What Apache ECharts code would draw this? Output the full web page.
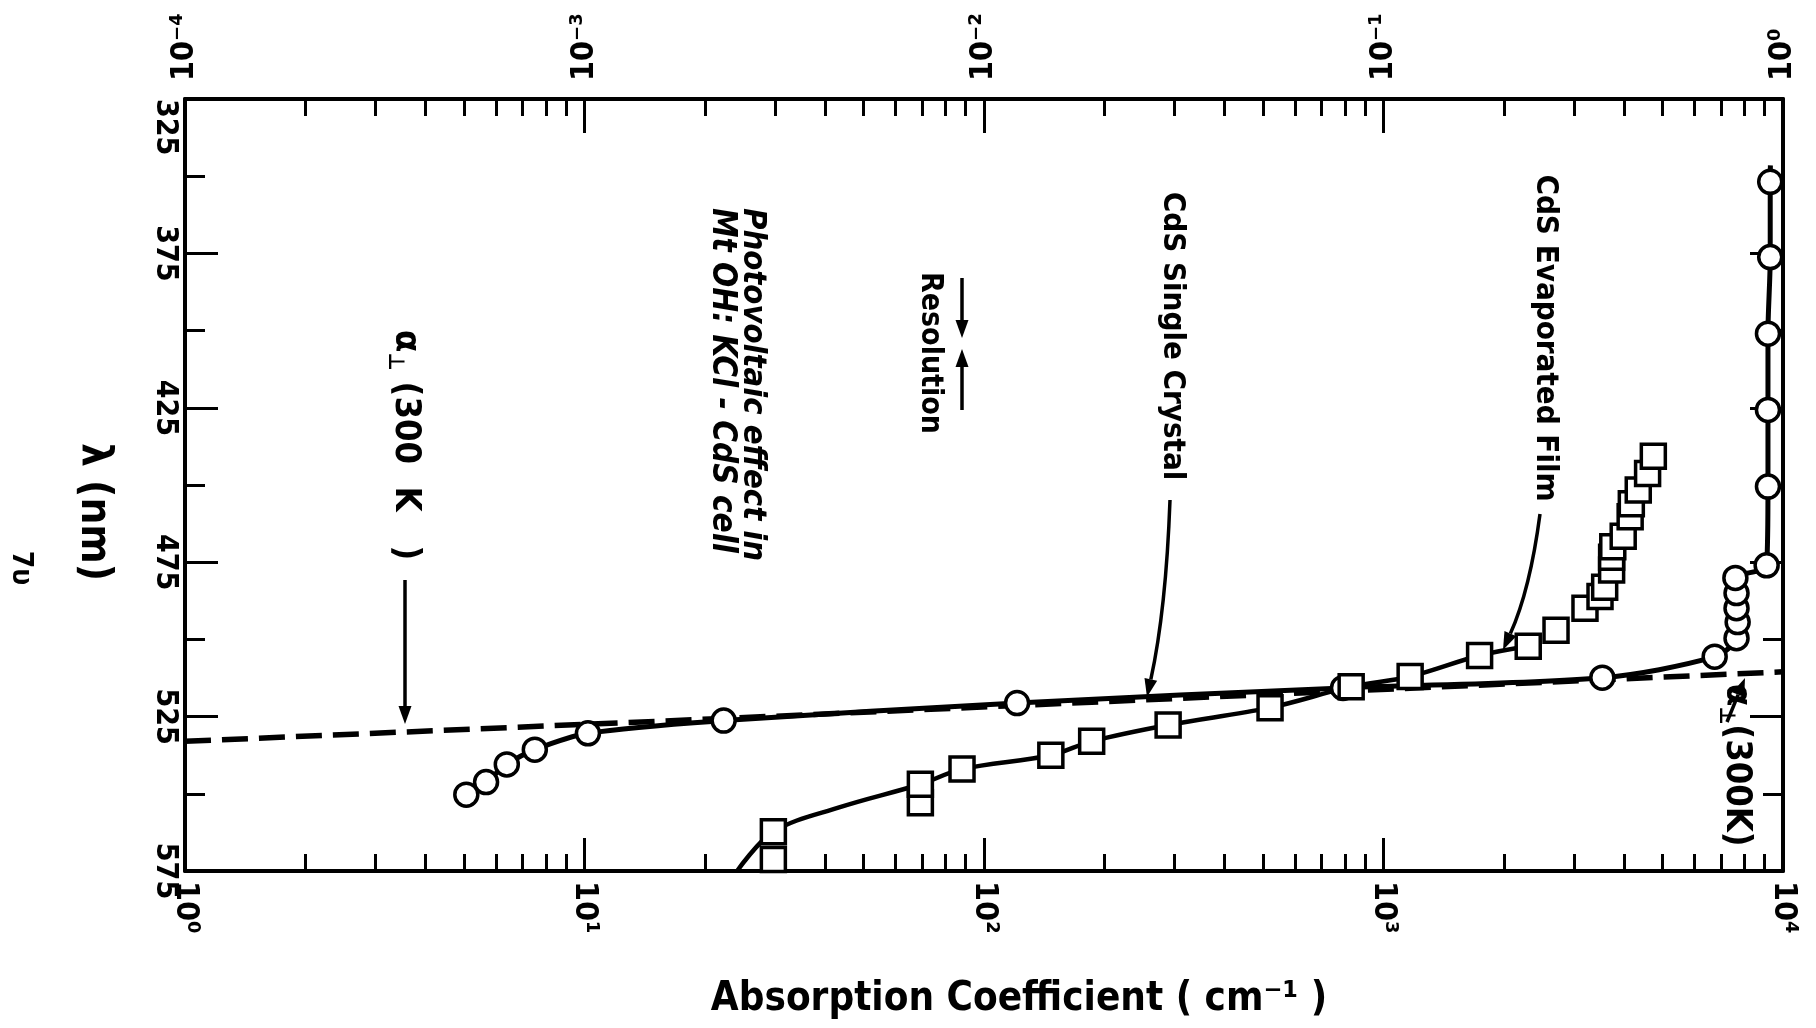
<!DOCTYPE html>
<html>
<head>
<meta charset="utf-8">
<script src="https://cdn.jsdelivr.net/npm/echarts@6/dist/echarts.min.js"></script>
<style>
  html, body { margin: 0; padding: 0; background: #fff; }
  #main { width: 1816px; height: 1028px; }
</style>
</head>
<body>
<div id="main"></div>
<script>
const FONT = "'Liberation Sans Narrow','DejaVu Sans Condensed','Liberation Sans',sans-serif";

// axis ticks / labels
const alphaMajor = [1, 10, 100, 1000, 10000];
const alphaLabels = ['10⁰', '10¹', '10²', '10³', '10⁴'];
const topMajor = [1e-4, 1e-3, 1e-2, 1e-1, 1];
const topLabels = ['10⁻⁴', '10⁻³', '10⁻²', '10⁻¹', '10⁰'];
const lambdaMajor = [325, 375, 425, 475, 525, 575];
const lambdaMinor = [350, 400, 450, 500, 550];

// CdS single crystal (circles): absorption coefficient (cm-1), wavelength (nm)
const crystalAlpha = [5.06, 5.67, 6.39, 7.51, 10.2, 22.3, 121, 792, 3530, 6745, 7650, 7700, 7650, 7650, 7600, 9100, 9170, 9170, 9170, 9290, 9290];
const crystalLambda = [550.3, 546.2, 540.5, 535.7, 530.4, 526.3, 520.6, 515.7, 512.4, 505.6, 499.6, 494.4, 489.9, 485.0, 480.1, 476.0, 450.5, 425.7, 401.0, 376.2, 351.8];
// where the crystal curve ends above the last circle
const crystalEndAlpha = [9300];
const crystalEndLambda = [346.5];

// CdS evaporated film (squares)
const filmAlpha = [29.7, 29.7, 69.3, 69.3, 88.1, 147, 186, 289, 520, 830, 1166, 1740, 2303, 2703, 3194, 3483, 3578, 3724, 3724, 3749, 3981, 4144, 4172, 4342, 4582, 4736];
const filmLambda = [571.3, 562.3, 552.9, 546.9, 542.0, 537.5, 533.0, 527.7, 522.1, 515.3, 512.0, 505.2, 502.2, 497.0, 489.9, 486.1, 483.1, 477.5, 473.4, 470.0, 466.6, 460.3, 456.1, 451.6, 446.3, 440.7];
// drawn film curve
const filmCurveAlpha = [24.1, 29.7, 43.4, 69.3, 88.1, 147, 186, 289, 520, 830, 1166, 1740, 2303];
const filmCurveLambda = [575.0, 562.3, 554.4, 546.9, 542.0, 537.5, 533.0, 527.7, 522.1, 515.3, 512.0, 505.2, 502.2];

// alpha_perp (300 K) dashed line
const perpAlpha = [1, 22.3, 10000];
const perpLambda = [533.0, 525.6, 510.5];

const zip = (a, b) => a.map((v, i) => [v, b[i]]);

const decadeMinors = (majors) => {
  const out = [];
  for (let i = 0; i < majors.length - 1; i++) {
    for (let k = 2; k <= 9; k++) out.push(majors[i] * k);
  }
  return out;
};

const labelStyle = { color: '#000', fontFamily: FONT, fontWeight: 'bold', fontSize: 32 };

function xAxisDef(position, min, max, ticks, len, labels, margin) {
  return {
    type: 'log', logBase: 10, position, min, max, gridIndex: 0,
    axisLine: { show: !!labels, onZero: false, lineStyle: { color: '#000', width: 4 } },
    axisTick: { show: true, inside: true, length: len, customValues: ticks, lineStyle: { color: '#000', width: 3 } },
    axisLabel: labels ? Object.assign({
      show: true, customValues: ticks, rotate: -90, margin,
      formatter: v => labels[Math.round(Math.log10(v) - Math.log10(min))]
    }, labelStyle) : { show: false },
    splitLine: { show: false }
  };
}

function yAxisDef(position, ticks, len, withLabels, showLine) {
  return {
    type: 'value', position, min: 325, max: 575, inverse: true, gridIndex: 0,
    axisLine: { show: showLine, onZero: false, lineStyle: { color: '#000', width: 4 } },
    axisTick: { show: true, inside: true, length: len, customValues: ticks, lineStyle: { color: '#000', width: 3 } },
    axisLabel: withLabels ? Object.assign({
      show: true, customValues: ticks, rotate: -90, margin: 5,
      alignMinLabel: 'left'
    }, labelStyle, { fontSize: 30 }) : { show: false },
    splitLine: { show: false }
  };
}

function vtext(text, x, y, size, extra) {
  return {
    type: 'text', x, y, rotation: -Math.PI / 2, z: 50,
    style: Object.assign({
      text, x: 0, y: 0, fill: '#000',
      fontFamily: FONT, fontWeight: 'bold', fontSize: size,
      align: 'left', verticalAlign: 'middle'
    }, extra || {})
  };
}

function arrow(x1, y1, x2, y2, cx, cy) {
  const fx = cx != null ? cx : x1, fy = cy != null ? cy : y1;
  const ang = Math.atan2(y2 - fy, x2 - fx);
  const hl = 18, hw = 6.5;
  const bx = x2 - hl * Math.cos(ang), by = y2 - hl * Math.sin(ang);
  const px = -Math.sin(ang) * hw, py = Math.cos(ang) * hw;
  const shaft = cx != null
    ? { type: 'bezierCurve', shape: { x1, y1, x2: bx, y2: by, cpx1: cx, cpy1: cy } }
    : { type: 'line', shape: { x1, y1, x2: bx, y2: by } };
  shaft.style = { stroke: '#000', lineWidth: 3.5, fill: null };
  shaft.z = 50;
  return [shaft, {
    type: 'polygon', z: 50,
    shape: { points: [[x2, y2], [bx + px, by + py], [bx - px, by - py]] },
    style: { fill: '#000' }
  }];
}

const perpRich = (size) => ({
  g: { fontFamily: FONT, fontWeight: 'bold', fontSize: size, lineHeight: size + 10 },
  s: { fontFamily: FONT, fontWeight: 'bold', fontSize: 22, lineHeight: size + 10, verticalAlign: 'bottom', padding: [0, 0, 2, 0] }
});

const option = {
  animation: false,
  backgroundColor: '#fff',
  grid: { left: 185, top: 99, width: 1598, height: 772, containLabel: false },
  xAxis: [
    xAxisDef('bottom', 1, 10000, alphaMajor, 33, alphaLabels, 10),
    xAxisDef('bottom', 1, 10000, decadeMinors(alphaMajor), 17, null),
    xAxisDef('top', 1e-4, 1, topMajor, 34, topLabels, 18),
    xAxisDef('top', 1e-4, 1, decadeMinors(topMajor), 17, null)
  ],
  yAxis: [
    yAxisDef('left', lambdaMajor, 33, true, true),
    yAxisDef('left', lambdaMinor, 20, false, false),
    yAxisDef('right', lambdaMajor, 33, false, true),
    yAxisDef('right', lambdaMinor, 20, false, false)
  ],
  series: [
    {
      name: 'alpha perp (300 K)', type: 'line', xAxisIndex: 0, yAxisIndex: 0,
      data: zip(perpAlpha, perpLambda), symbol: 'none', smooth: false,
      lineStyle: { color: '#000', width: 5.5, type: [26, 11] }, z: 2
    },
    {
      name: 'CdS Single Crystal curve', type: 'line', xAxisIndex: 0, yAxisIndex: 0,
      data: zip(crystalAlpha, crystalLambda).concat(zip(crystalEndAlpha, crystalEndLambda)),
      symbol: 'none', smooth: 0.3,
      lineStyle: { color: '#000', width: 5 }, z: 3
    },
    {
      name: 'CdS Evaporated Film curve', type: 'line', xAxisIndex: 0, yAxisIndex: 0,
      data: zip(filmCurveAlpha, filmCurveLambda), symbol: 'none', smooth: 0.35,
      lineStyle: { color: '#000', width: 4.5 }, z: 3
    },
    {
      name: 'CdS Single Crystal', type: 'scatter', xAxisIndex: 0, yAxisIndex: 0,
      data: zip(crystalAlpha, crystalLambda), symbol: 'circle', symbolSize: 23,
      itemStyle: { color: '#fff', borderColor: '#000', borderWidth: 3.5, opacity: 1 }, z: 5, clip: false
    },
    {
      name: 'CdS Evaporated Film', type: 'scatter', xAxisIndex: 0, yAxisIndex: 0,
      data: zip(filmAlpha, filmLambda), symbol: 'rect', symbolSize: 24,
      itemStyle: { color: '#fff', borderColor: '#000', borderWidth: 3.5, opacity: 1 }, z: 5, clip: false
    }
  ],
  graphic: [
    {
      type: 'text', x: 1019, y: 1000, z: 50,
      style: {
        text: 'Absorption Coefficient ( cm⁻¹ )', fill: '#000', fontFamily: FONT, fontWeight: 'bold',
        fontSize: 40, align: 'center', verticalAlign: 'middle'
      }
    },
    vtext('λ (nm)', 93, 512, 42, { align: 'center' }),
    vtext('7υ', 20, 568, 28, { align: 'center' }),
    vtext('CdS Single Crystal', 1172, 336, 31, { align: 'center' }),
    vtext('CdS Evaporated Film', 1545, 338, 31, { align: 'center' }),
    vtext('Resolution', 930, 353, 30, { align: 'center' }),
    vtext('Photovoltaic effect in', 752, 208, 32.5, { fontStyle: 'italic' }),
    vtext('Mt OH: KCl - CdS cell', 722, 208, 33, { fontStyle: 'italic' }),
    vtext('{g|α}{s|⊥}{g| (300  K   )}', 405, 330, 36, { rich: perpRich(36) }),
    vtext('{g|α}{s|⊥}{g|(300K)}', 1736, 684, 36, { rich: perpRich(36) }),
    ...arrow(405, 580, 405, 724),
    ...arrow(1170, 500, 1147, 697, 1166, 610),
    ...arrow(1540, 514, 1503, 650, 1530, 590),
    ...arrow(962, 278, 962, 338),
    ...arrow(962, 410, 962, 349),
    ...arrow(1727, 722, 1745, 678)
  ]
};

const chart = echarts.init(document.getElementById('main'));
chart.setOption(option);
window.addEventListener('resize', () => chart.resize());
</script>
</body>
</html>
